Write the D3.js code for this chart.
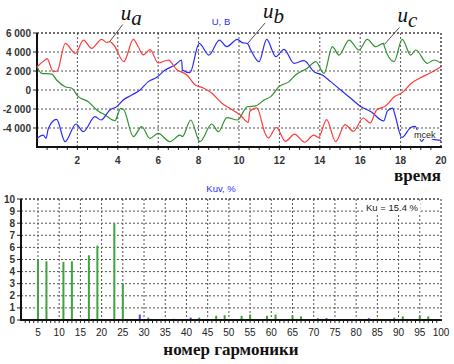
<!DOCTYPE html>
<html><head><meta charset="utf-8">
<script src="https://cdn.jsdelivr.net/npm/d3@7"></script>
<style>
body{margin:0;background:#fff;}
svg{display:block;font-family:"Liberation Sans",Arial,sans-serif;}
</style></head>
<body><svg id="c" width="454" height="364"></svg>
<script>
// ---------- DATA ----------
const uaT = [0,0.4,0.5,0.8,1.0,1.4,1.9,2.3,2.7,3.2,3.45,3.6,3.8,4.3,4.77,5.0,5.26,5.6,6.0,6.5,6.92,7.41,7.82,8.23,8.65,9.14,9.6,10.05,10.46,10.54,10.88,11.3,11.45,11.85,12.3,12.75,13.25,13.7,13.93,14.34,14.78,15.25,15.66,16.15,16.49,16.82,17.23,17.72,18.05,18.55,18.96,19.46,20];
const uaV = [2450,3160,3300,1930,2000,4900,3860,5260,4390,5330,5000,5100,4740,2980,5330,4600,3700,4240,2840,3150,2140,1610,560,210,-320,-1370,-2000,-2600,-3400,-2240,-1890,-4600,-5050,-3950,-5400,-4650,-5500,-4750,-5000,-3120,-5440,-3650,-4350,-2950,-3470,-2070,-1720,-670,-320,740,1260,1790,2450];
const ubT = [0,0.31,0.45,0.56,0.97,1.39,1.93,2.29,2.87,3.17,3.61,3.95,4.27,4.69,5.1,5.51,5.93,6.34,6.83,7.16,7.2,7.57,8.03,8.51,9.03,9.39,9.92,10.16,10.41,10.58,10.99,11.37,11.82,12.23,12.72,13.22,13.71,14.12,14.54,15.03,15.53,16.02,16.52,17.16,17.35,17.6,17.72,18.06,18.5,18.72,19.04,19.3,19.6,20];
const ubV = [-5090,-4740,-5090,-4040,-3090,-5440,-3580,-4390,-2810,-3160,-2100,-1750,-1050,-530,0,880,1330,2100,2630,3160,2100,1820,4910,3680,5260,4560,5330,4980,4910,4210,2980,5330,3510,4280,2810,3090,1930,1580,880,0,-870,-1740,-2260,-3260,-2200,-1900,-2600,-5000,-3950,-3820,-5400,-4700,-5200,-5300];
const ucT = [0,0.23,0.73,0.97,1.39,1.72,2.05,2.54,2.96,3.37,3.86,4.14,4.3,4.77,5.18,5.59,6.0,6.58,7.08,7.2,7.61,8.07,8.65,8.98,9.4,9.92,10.41,10.83,11.24,11.57,11.98,12.48,12.8,13.38,13.8,14.21,14.62,14.95,15.45,15.94,16.35,16.77,17.15,17.2,17.67,18.08,18.5,18.75,19.32,19.65,20];
const ucV = [2450,1750,1680,1050,350,180,-700,-1230,-2100,-2630,-3230,-1930,-2100,-4910,-3860,-5090,-4560,-5440,-4740,-4900,-3160,-5440,-3580,-4390,-2900,-3160,-1760,-1680,-1050,-700,350,880,1580,2280,2980,1750,4560,3680,5260,4210,5330,4560,4910,4560,2980,5330,3680,4210,2810,3160,2810];
const timeTicks = [2,4,6,8,10,12,14,16,18,20];
const voltTicks = [-4000,-2000,0,2000,4000,6000];

const greenHarm = [5,7,11,13,17,19,23,25,31,35,37,43,47,49,53,55,59,61,65,67,71,77,85,89,91,95,97];
const greenVal  = [5.0,4.85,4.8,4.85,5.35,6.15,8.0,3.0,0.2,0.05,0.1,0.2,0.35,0.4,0.35,0.45,0.35,0.45,0.4,0.3,0.15,0.05,0.1,0.2,0.3,0.35,0.3];
const blueHarm = [29,41,73,83];
const blueVal  = [0.45,0.2,0.15,0.15];
const harmTicks = d3.range(5,101,5);
const kuTicks = d3.range(0,11,1);
const kuTotal = "Ku  = 15.4 %";

// ---------- DRAW ----------
const svg = d3.select("#c");
const serif = "'Liberation Serif','Times New Roman',serif";
const fmt = d3.formatLocale({decimal:".",thousands:" ",grouping:[3],currency:["",""],minus:"-"}).format(",d");
const gridCol = "#555";

// Top chart
const x1 = d3.scaleLinear().domain([0,20]).range([37,441]);
const y1 = d3.scaleLinear().domain([-6000,6000]).range([147,33]);
const g1 = svg.append("g");
g1.selectAll(".vg").data(timeTicks).join("line")
  .attr("x1",d=>x1(d)).attr("x2",d=>x1(d)).attr("y1",33).attr("y2",147)
  .attr("stroke",gridCol).attr("stroke-width",1).attr("stroke-dasharray","2,2");
g1.selectAll(".hg").data(voltTicks).join("line")
  .attr("x1",37).attr("x2",441).attr("y1",d=>y1(d)).attr("y2",d=>y1(d))
  .attr("stroke",gridCol).attr("stroke-width",1).attr("stroke-dasharray","2,2");
g1.selectAll(".mt").data(d3.range(0.5,20,0.5)).join("line")
  .attr("x1",d=>x1(d)).attr("x2",d=>x1(d)).attr("y1",147).attr("y2",150)
  .attr("stroke","#222");
g1.selectAll(".lt").data(voltTicks).join("line")
  .attr("x1",33).attr("x2",37).attr("y1",d=>y1(d)).attr("y2",d=>y1(d)).attr("stroke","#222");
g1.append("line").attr("x1",37).attr("x2",37).attr("y1",33).attr("y2",148).attr("stroke","#111").attr("stroke-width",2);
g1.append("line").attr("x1",36).attr("x2",442).attr("y1",147).attr("y2",147).attr("stroke","#111").attr("stroke-width",2);
g1.selectAll(".yl").data(voltTicks).join("text")
  .attr("x",31).attr("y",d=>y1(d)+3.5).attr("text-anchor","end")
  .attr("font-size",10).attr("font-weight","bold").attr("fill","#333").text(d=>fmt(d));
g1.selectAll(".xl").data(timeTicks).join("text")
  .attr("x",d=>x1(d)).attr("y",164).attr("text-anchor","middle")
  .attr("font-size",10).attr("font-weight","bold").attr("fill","#333").text(d=>d);

const series = [
  {t:ucT,v:ucV,c:"#2f922f"},
  {t:ubT,v:ubV,c:"#2a2aff"},
  {t:uaT,v:uaV,c:"#ff3b3b"}
];
const line = d3.line().x(d=>x1(d[0])).y(d=>y1(d[1])).curve(d3.curveMonotoneX);
series.forEach(s=>{
  g1.append("path").datum(d3.zip(s.t,s.v)).attr("d",line)
    .attr("fill","none").attr("stroke",s.c).attr("stroke-width",1.2);
});
g1.append("line").attr("x1",37).attr("x2",441).attr("y1",33).attr("y2",33)
  .attr("stroke","#333").attr("stroke-dasharray","2,2");
g1.append("line").attr("x1",441).attr("x2",441).attr("y1",33).attr("y2",147)
  .attr("stroke","#333").attr("stroke-dasharray","2,2");

g1.append("rect").attr("x",413).attr("y",130).attr("width",22).attr("height",9).attr("fill","#fff");
g1.append("text").attr("x",414).attr("y",138).attr("font-size",9).attr("fill","#222").text("mcek");
g1.append("text").attr("x",221).attr("y",25).attr("text-anchor","middle")
  .attr("font-size",9.5).attr("fill","#2a2aff").text("U, В");

const ann = [
  {t:3.6,v:5100,sub:"a",dx:13,dy:-17},
  {t:10.45,v:4950,sub:"b",dx:17,dy:-20},
  {t:17.2,v:4800,sub:"c",dx:15,dy:-17}
];
ann.forEach(a=>{
  const px=x1(a.t), py=y1(a.v);
  g1.append("line").attr("x1",px).attr("y1",py).attr("x2",px+a.dx).attr("y2",py+a.dy)
    .attr("stroke","#222").attr("stroke-width",0.8);
  const tx = g1.append("text").attr("x",px+a.dx-2).attr("y",py+a.dy-5)
    .style("font-family",serif)
    .attr("font-style","italic").attr("font-size",21).attr("fill","#111");
  tx.append("tspan").text("u");
  tx.append("tspan").attr("dy",5).text(a.sub);
});
svg.append("text").attr("x",441).attr("y",181).attr("text-anchor","end")
  .style("font-family",serif)
  .attr("font-weight","bold").attr("font-size",17).attr("fill","#111").text("время");

// Bottom chart
const x2 = d3.scaleLinear().domain([1,100]).range([21,441]);
const y2 = d3.scaleLinear().domain([0,10]).range([320,199]);
const g2 = svg.append("g");
g2.selectAll(".vg").data(harmTicks.filter(d=>d<100)).join("line")
  .attr("x1",d=>x2(d)).attr("x2",d=>x2(d)).attr("y1",199).attr("y2",320)
  .attr("stroke",gridCol).attr("stroke-dasharray","2,2");
g2.selectAll(".hg").data(kuTicks.filter(d=>d>0)).join("line")
  .attr("x1",21).attr("x2",441).attr("y1",d=>y2(d)).attr("y2",d=>y2(d))
  .attr("stroke",gridCol).attr("stroke-dasharray","2,2");
g2.selectAll(".mt").data(d3.range(2,100,1)).join("line")
  .attr("x1",d=>x2(d)).attr("x2",d=>x2(d)).attr("y1",320).attr("y2",323).attr("stroke","#222");
g2.selectAll(".lt").data(kuTicks).join("line")
  .attr("x1",17).attr("x2",21).attr("y1",d=>y2(d)).attr("y2",d=>y2(d)).attr("stroke","#222");
g2.selectAll(".gb").data(d3.zip(greenHarm,greenVal)).join("rect")
  .attr("x",d=>x2(d[0])-1).attr("width",2).attr("y",d=>y2(d[1])).attr("height",d=>y2(0)-y2(d[1]))
  .attr("fill","#3fa43f");
g2.selectAll(".bb").data(d3.zip(blueHarm,blueVal)).join("rect")
  .attr("x",d=>x2(d[0])-1).attr("width",2).attr("y",d=>y2(d[1])).attr("height",d=>y2(0)-y2(d[1]))
  .attr("fill","#4a4adf");
g2.append("line").attr("x1",21).attr("x2",21).attr("y1",199).attr("y2",321).attr("stroke","#111").attr("stroke-width",2);
g2.append("line").attr("x1",20).attr("x2",442).attr("y1",320).attr("y2",320).attr("stroke","#111").attr("stroke-width",2);
g2.append("line").attr("x1",21).attr("x2",441).attr("y1",199).attr("y2",199).attr("stroke","#333").attr("stroke-dasharray","2,2");
g2.append("line").attr("x1",441).attr("x2",441).attr("y1",199).attr("y2",320).attr("stroke","#333").attr("stroke-dasharray","2,2");
g2.selectAll(".yl").data(kuTicks).join("text")
  .attr("x",15).attr("y",d=>y2(d)+3.5).attr("text-anchor","end")
  .attr("font-size",10).attr("font-weight","bold").attr("fill","#333").text(d=>d);
g2.selectAll(".xl").data(harmTicks).join("text")
  .attr("x",d=>x2(d)).attr("y",336).attr("text-anchor","middle")
  .attr("font-size",10).attr("fill","#222").text(d=>d);
g2.append("rect").attr("x",364).attr("y",202).attr("width",56).attr("height",11).attr("fill","#fff");
g2.append("text").attr("x",366).attr("y",211).attr("font-size",9.5).attr("fill","#222").text(kuTotal);
svg.append("text").attr("x",221).attr("y",192).attr("text-anchor","middle")
  .attr("font-size",9.5).attr("fill","#2a2aff").text("Kuv, %");
svg.append("text").attr("x",231).attr("y",355).attr("text-anchor","middle")
  .style("font-family",serif)
  .attr("font-weight","bold").attr("font-size",17).attr("fill","#111").text("номер гармоники");
</script></body></html>
